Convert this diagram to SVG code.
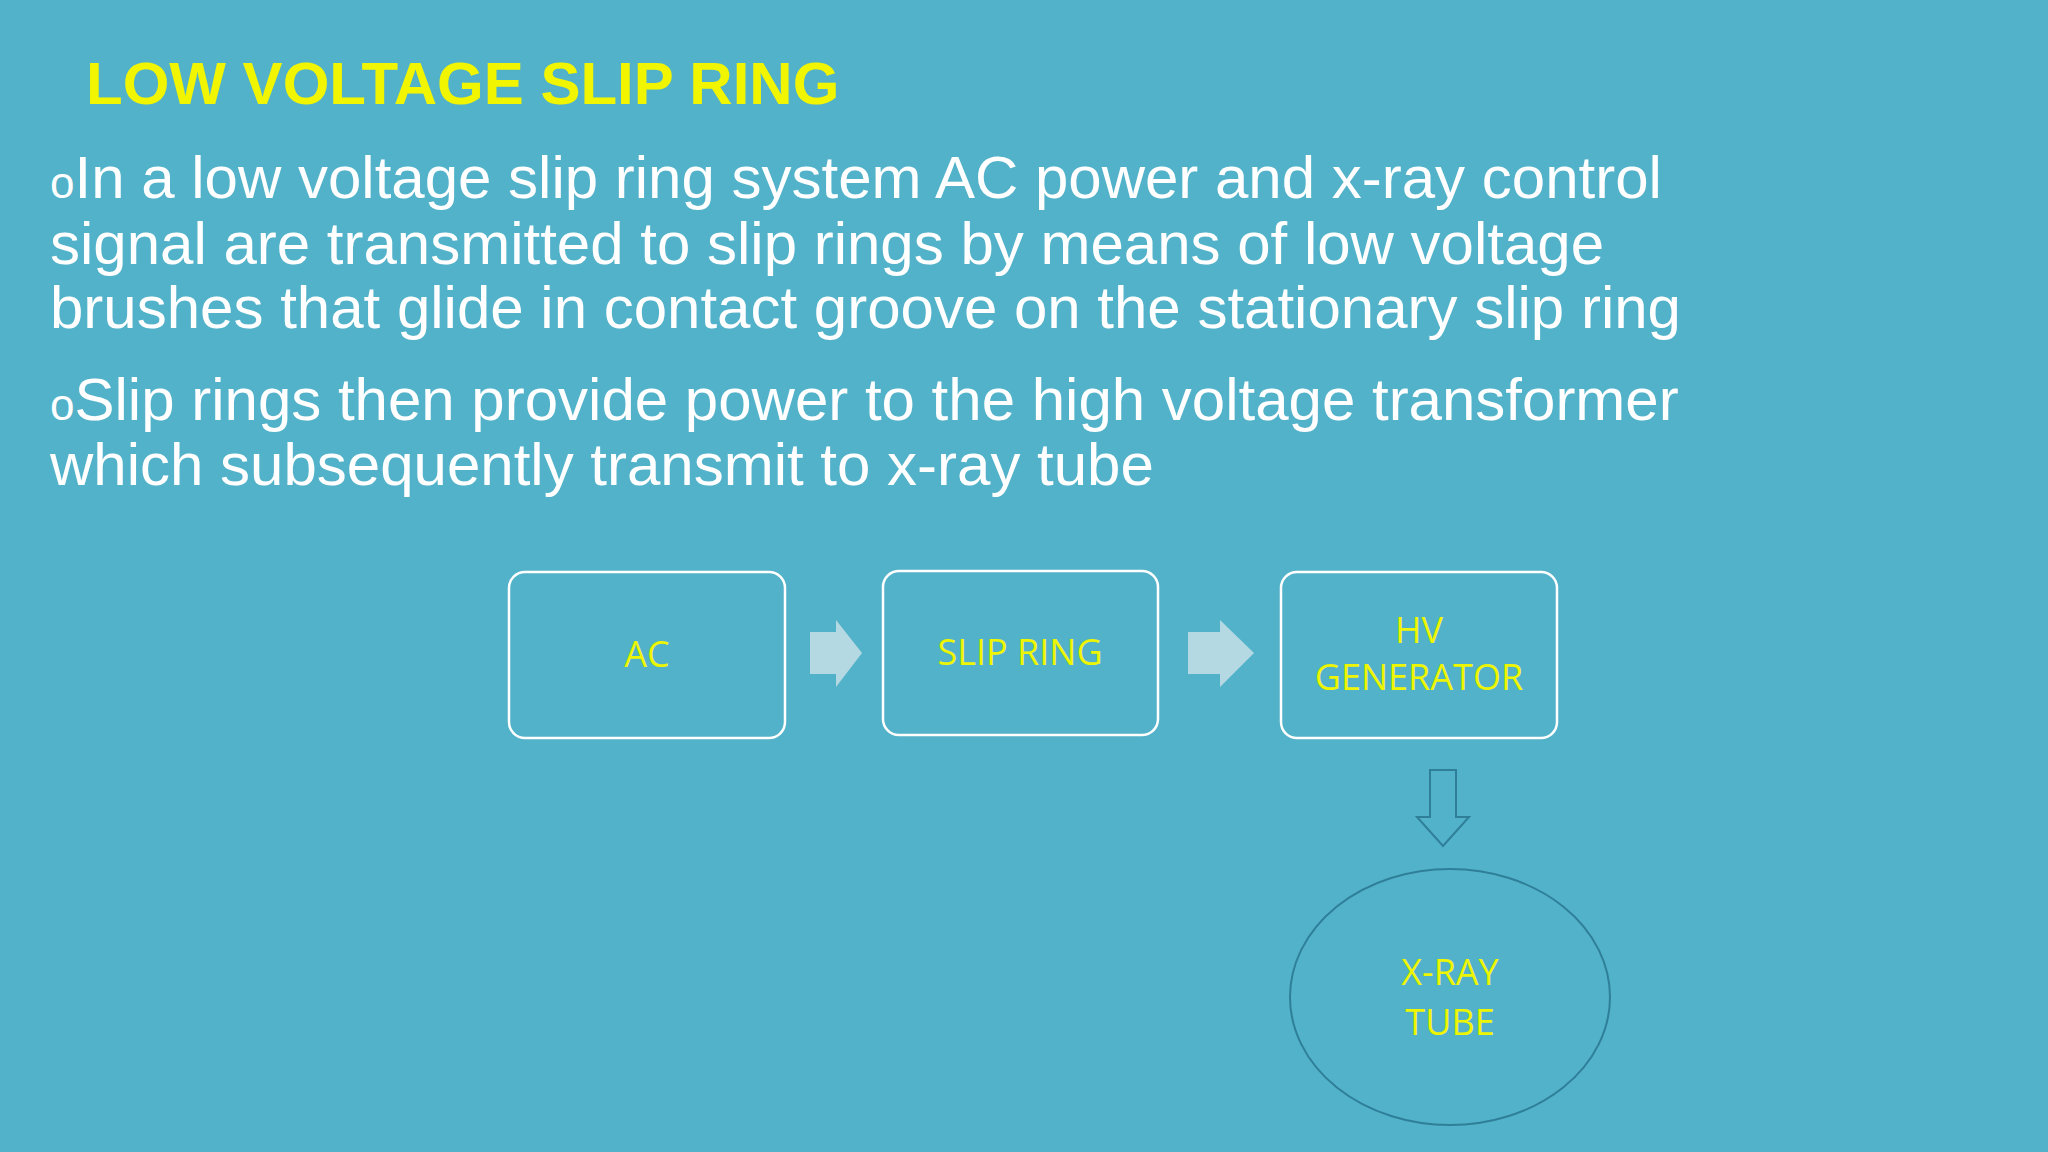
<svg xmlns="http://www.w3.org/2000/svg" width="2048" height="1152" viewBox="0 0 2048 1152">
<style>
.body{font-family:"Liberation Sans",Arial,sans-serif;font-size:60px;fill:#ffffff}
.bul{font-size:44px}
.lbl{font-family:"Open Sans","Liberation Sans",sans-serif;font-size:36px;fill:#eef500;text-anchor:middle}
.box{fill:none;stroke:#ffffff;stroke-width:2.5}
.fat{fill:#b5d9e3}
</style>
<rect width="2048" height="1152" fill="#52b2c9"/>
<text x="86" y="104" font-family="Liberation Sans,Arial,sans-serif" font-weight="bold" font-size="60" fill="#f2f500">LOW VOLTAGE SLIP RING</text>
<text class="body"><tspan x="50" y="198"><tspan class="bul">o</tspan>In a low voltage slip ring system AC power and x-ray control</tspan><tspan x="50" y="264">signal are transmitted to slip rings by means of low voltage</tspan><tspan x="50" y="328">brushes that glide in contact groove on the stationary slip ring</tspan><tspan x="50" y="420"><tspan class="bul">o</tspan>Slip rings then provide power to the high voltage transformer</tspan><tspan x="50" y="485">which subsequently transmit to x-ray tube</tspan></text>
<g id="ac"><rect class="box" x="509" y="572" width="276" height="166" rx="16"/><text class="lbl" x="647" y="667">AC</text></g>
<g id="slipring"><rect class="box" x="883" y="571" width="275" height="164" rx="16"/><text class="lbl" x="1020" y="665">SLIP RING</text></g>
<g id="hv"><rect class="box" x="1281" y="572" width="276" height="166" rx="16"/><text class="lbl" x="1419" y="643">HV</text><text class="lbl" x="1419" y="690">GENERATOR</text></g>
<g id="xray"><ellipse cx="1450" cy="997" rx="160" ry="128" fill="none" stroke="#2f7f98" stroke-width="2"/><text class="lbl" x="1450" y="985">X-RAY</text><text class="lbl" x="1450" y="1035">TUBE</text></g>
<g id="connectors">
<polygon class="fat" points="810,632 836,632 836,620 862,653 836,687 836,674 810,674"/>
<polygon class="fat" points="1188,632 1220,632 1220,620 1254,653 1220,687 1220,674 1188,674"/>
<polygon points="1430,770 1456,770 1456,817 1469,817 1443,846 1417,817 1430,817" fill="none" stroke="#2f7f98" stroke-width="2"/>
</g>
</svg>
